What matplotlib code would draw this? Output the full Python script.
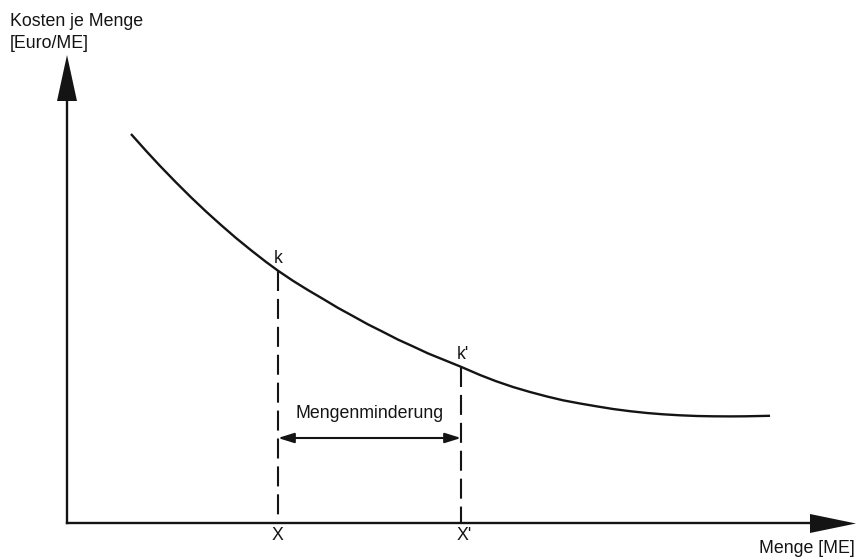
import matplotlib
matplotlib.use("Agg")
import matplotlib.pyplot as plt
from matplotlib.patches import Polygon

plt.rcParams['font.family'] = ['Liberation Sans', 'DejaVu Sans']

# curve (pixel units, y pointing down)
curve_x = [131, 146, 160, 176, 191, 206, 221, 236, 251, 266, 278,
           293, 308, 323, 338, 353, 368, 383, 398, 413, 428, 445, 461,
           480, 496, 513, 530, 547, 563, 580, 597, 613, 630, 647, 663,
           680, 697, 713, 730, 745, 770]
curve_y = [134, 150.8, 165.9, 182.4, 197.3, 211.5, 225.0, 238.0, 250.2,
           261.9, 270.7, 280.8, 290.1, 298.9, 307.9, 316.1, 324.4, 331.9,
           339.6, 346.4, 353.4, 360.3, 366.8, 375, 381.2, 387, 392, 396.5,
           400.3, 403.5, 406.4, 409, 411.2, 413, 414.3, 415.3, 416, 416.3,
           416.4, 416.3, 415.8]

# marked quantities X, X' and their costs k, k'
mark_x = [278, 461]
mark_k = [271, 367]
mark_labels_k = ["k", "k'"]
mark_labels_x = ["X", "X'"]

origin = (67, 523)
fs = 12.8
col = "#141414"

fig = plt.figure(figsize=(8.56, 5.59), dpi=100)
ax = fig.add_axes([0, 0, 1, 1])
ax.set_xlim(0, 856)
ax.set_ylim(559, 0)
ax.axis("off")

# axes with arrow heads
ax.plot([origin[0], origin[0]], [origin[1], 98], color=col, lw=1.7,
        solid_capstyle="projecting")
ax.plot([origin[0], 812], [origin[1], origin[1]], color=col, lw=1.7,
        solid_capstyle="projecting")
ax.add_patch(Polygon([[57, 101], [77, 101], [67, 55]], closed=True,
                     color=col, lw=0))
ax.add_patch(Polygon([[810, 514], [810, 533], [856, 523.5]], closed=True,
                     color=col, lw=0))

# cost curve
ax.plot(curve_x, curve_y, color=col, lw=1.7, solid_joinstyle="round",
        solid_capstyle="butt")

# dashed drop lines and labels
for mx, mk, lk, lx in zip(mark_x, mark_k, mark_labels_k, mark_labels_x):
    ax.plot([mx, mx], [mk, origin[1]], color=col, lw=1.5,
            linestyle=(0, (9.6, 3.8)))
    ax.text(mx + (0 if lk == "k" else 2), mk - 8, lk, fontsize=fs,
            color=col, ha="center", va="baseline")
    ax.text(mx + (0 if lx == "X" else 3), 540, lx, fontsize=fs,
            color=col, ha="center", va="baseline")

# double arrow
ax.annotate("", xy=(mark_x[0], 438), xytext=(mark_x[1], 438),
            arrowprops=dict(arrowstyle="<|-|>,head_length=0.8,head_width=0.25",
                            color=col, lw=1.5, shrinkA=0, shrinkB=0,
                            mutation_scale=12))
ax.text((mark_x[0] + mark_x[1]) / 2, 418, "Mengenminderung", fontsize=fs,
        color=col, ha="center", va="baseline")

# axis titles
ax.text(10, 26, "Kosten je Menge", fontsize=fs, color=col, ha="left",
        va="baseline")
ax.text(10, 48, "[Euro/ME]", fontsize=fs, color=col, ha="left",
        va="baseline")
ax.text(855, 553, "Menge [ME]", fontsize=fs, color=col, ha="right",
        va="baseline")

fig.savefig("out.png", dpi=100)
